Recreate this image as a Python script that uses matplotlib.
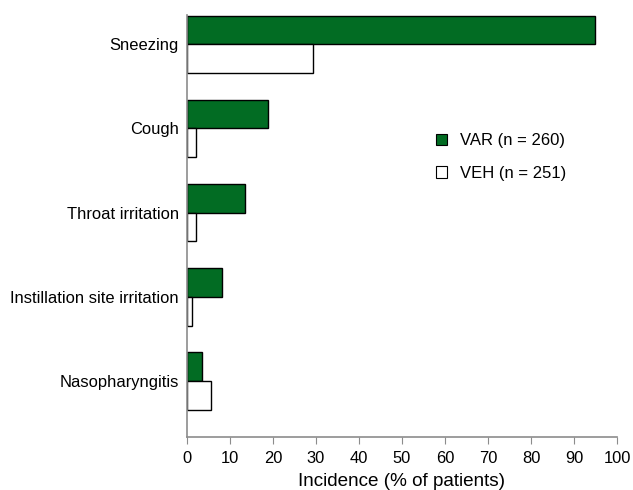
import numpy as np
import matplotlib.pyplot as plt
from matplotlib.patches import Patch

plt.rcParams['font.family'] = ['Liberation Sans', 'DejaVu Sans']

categories = ['Sneezing', 'Cough', 'Throat irritation',
              'Instillation site irritation', 'Nasopharyngitis']
var_vals = [95.0, 18.9, 13.6, 8.1, 3.6]
veh_vals = [29.2, 2.1, 2.1, 1.2, 5.7]
xticks = [0, 10, 20, 30, 40, 50, 60, 70, 80, 90, 100]

green = '#026c23'
spine_col = '#8c8c8c'

fig = plt.figure(figsize=(6.33, 4.9), dpi=100)
ax = fig.add_axes([0.2954, 0.108, 0.6793, 0.861])

y = np.arange(len(categories))
h = 0.34
ax.barh(y - h / 2, var_vals, height=h, color=green, edgecolor='black', linewidth=1)
ax.barh(y + h / 2, veh_vals, height=h, color='white', edgecolor='black', linewidth=1)

ax.set_ylim(4.665, -0.345)
ax.set_xlim(0, 100)
ax.set_yticks(y)
ax.set_yticklabels(categories, fontsize=11.9)
ax.tick_params(axis='y', length=0, pad=6)
ax.set_xticks(xticks)
ax.tick_params(axis='x', labelsize=11.9, length=5, color=spine_col, pad=5)
ax.set_xlabel('Incidence (% of patients)', fontsize=13.6, labelpad=5)

for s in ['top', 'right']:
    ax.spines[s].set_visible(False)
for s in ['left', 'bottom']:
    ax.spines[s].set_color(spine_col)
    ax.spines[s].set_linewidth(1.2)

handles = [Patch(facecolor=green, edgecolor='black', linewidth=0.8),
           Patch(facecolor='white', edgecolor='black', linewidth=0.8)]
ax.legend(handles, ['VAR (n = 260)', 'VEH (n = 251)'], frameon=False,
          fontsize=12, handlelength=0.66, handleheight=0.66, handletextpad=0.8,
          labelspacing=1.05, borderpad=0, borderaxespad=0,
          loc='upper left', bbox_to_anchor=(0.579, 0.72))

fig.savefig('out.png', dpi=100)
